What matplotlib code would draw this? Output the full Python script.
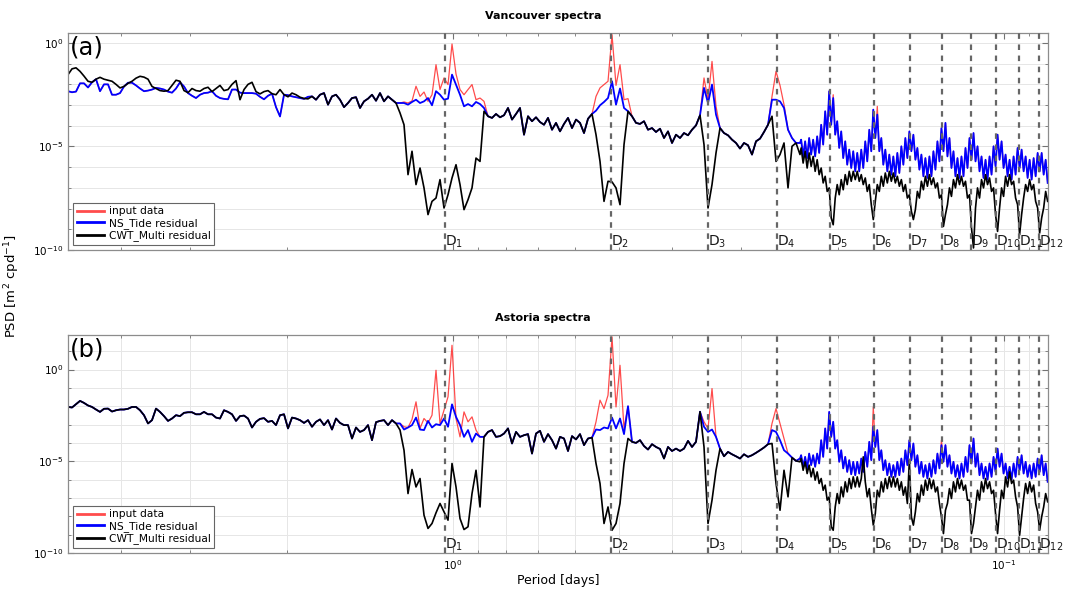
import numpy as np
import matplotlib as mpl
mpl.use('Agg')
import matplotlib.pyplot as plt
from matplotlib.ticker import LogLocator, FixedLocator, LogFormatterSciNotation, NullFormatter

# period grids (days): 5 d -> ~5.6 h, then a finer one for the dense part down to 2 h
period_lf = np.geomspace(5.0, 0.2346, 184)
period_hf = np.geomspace(0.2335, 1.0 / 12, 124)

# D_n tidal species (lunar day / n), in days
d_period = [1.035, 0.5175, 0.345, 0.2588, 0.207, 0.1725,
            0.1479, 0.1294, 0.115, 0.1035, 0.0941, 0.0863]

# ---- Vancouver: log10(PSD) ----
black_a = [
    -1.53, -1.25, -1.2, -1.37, -1.6, -1.85, -1.9, -1.75, -1.66, -1.75,
    -1.8, -1.85, -2.0, -2.17, -2.1, -1.95, -1.85, -1.7, -1.61, -1.65,
    -1.75, -2.1, -2.2, -2.3, -2.33, -2.3, -2.05, -1.8, -1.85, -2.3,
    -2.4, -2.2, -2.3, -2.33, -2.2, -2.14, -2.35, -2.2, -2.05, -2.3,
    -2.25, -2.0, -1.82, -2.74, -2.25, -2.0, -1.9, -2.35, -2.46, -2.35,
    -2.3, -2.45, -2.5, -2.25, -2.5, -2.6, -2.42, -2.5, -2.62, -2.68,
    -2.7, -2.58, -2.74, -2.5, -2.42, -2.98, -2.58, -2.5, -2.74, -3.1,
    -2.9, -2.66, -2.62, -3.14, -2.82, -2.69, -2.5, -2.79, -2.42, -2.82,
    -2.58, -2.74, -2.9, -3.38, -3.95, -6.36, -5.23, -6.84, -6.04, -7.0,
    -8.29, -7.65, -7.49, -6.6, -7.97, -7.33, -6.52, -5.88, -6.84, -8.05,
    -7.57, -7.0, -5.56, -5.72, -3.3, -3.54, -3.62, -3.43, -3.59, -3.49,
    -3.14, -3.7, -3.43, -3.14, -4.43, -3.54, -3.78, -3.59, -3.82, -3.95,
    -3.62, -4.19, -3.86, -4.27, -3.91, -3.62, -4.11, -3.7, -3.86, -4.35,
    -3.66, -3.43, -4.43, -5.72, -7.65, -6.68, -6.71, -7.0, -7.81, -4.91,
    -3.3, -3.54, -3.86, -3.91, -3.78, -4.19, -4.11, -4.3, -4.14, -4.59,
    -4.27, -4.83, -4.43, -4.59, -4.35, -4.46, -4.19, -3.98, -3.49, -4.91,
    -7.97, -6.84, -5.31, -4.11, -4.35, -4.46, -4.67, -4.83, -5.1, -4.83,
    -4.94, -5.39, -4.75, -4.62, -4.3, -3.95, -3.54, -5.72, -5.39, -4.83,
    -7.0, -4.99, -4.83, -5.39]

# None = hidden under the black line
blue_a = ([
    -2.33, -2.38, -2.35, -1.95, -1.95, -2.15, -1.9, -1.75, -2.33, -2.0,
    -2.0, -2.5, -2.5, -2.42, -2.1, -1.92, -1.92, -2.05, -2.2, -2.33,
    -2.3, -2.25, -2.17, -2.2, -2.25, -2.35, -2.4, -2.2, -1.9, -2.1,
    -2.42, -2.55, -2.66, -2.5, -2.42, -2.4, -2.33, -2.55, -2.66, -2.7,
    -2.72, -2.25, -2.25, -2.4, -2.42, -2.42, -2.42, -2.45, -2.6, -2.72,
    -2.55, -2.45, -3.1, -3.55, -2.5, -2.52, -2.58, -2.62, -2.66, -2.7,
    -2.6]
    + [None] * 22
    + [-2.9, -2.9, -2.98, -2.85, -2.74, -2.9, -2.82, -2.66, -3.01, -2.33,
       -2.5, -2.74, -2.69, -1.53, -2.01, -2.5, -3.06, -2.95, -3.06, -2.85,
       -2.95, -3.14]
    + [None] * 27
    + [-3.27, -3.01, -2.85, -2.66, -1.85, -2.98, -2.2, -3.14]
    + [None] * 19
    + [-2.17, -2.9, -2.01, -3.46]
    + [None] * 13
    + [-2.74, -2.74, -2.82, -3.14, -4.19, -4.59]
    + [None, -4.83])

# None = hidden under the blue line
red_a = ([None] * 83
         + [-2.9, -2.85, -2.9, -2.8, -2.09, -2.58, -2.37, -2.82, -2.5, -1.05,
            -2.25, -1.69, -2.01, -0.05, -1.5, -2.25, -2.5, -2.25, -2.01, -2.74,
            -2.66, -2.82]
         + [None] * 27
         + [-2.58, -2.17, -2.01, -1.85, 0.4, -2.05, -1.05, -2.74, -2.69]
         + [None] * 18
         + [-1.69, -2.74, -0.89, -3.06]
         + [None] * 13
         + [-2.58, -1.37, -2.05, -2.98]
         + [None] * 4)

# dense high-frequency part: top and bottom of the noisy trace, alternating
blue_a_top = [
    -4.67, -4.75, -4.59, -4.67, -4.51, -3.95, -3.3, -2.33, -2.66, -3.78,
    -4.27, -4.75, -5.15, -5.23, -5.31, -5.15, -4.75, -4.19, -3.22, -3.46,
    -4.59, -5.15, -5.39, -5.48, -5.31, -4.99, -4.59, -4.27, -4.43, -5.07,
    -5.39, -5.56, -5.48, -5.23, -4.75, -4.11, -3.86, -4.59, -5.23, -5.56,
    -5.48, -5.07, -4.59, -4.35, -4.99, -5.48, -5.64, -5.48, -4.99, -4.43,
    -4.75, -5.39, -5.64, -5.48, -5.07, -5.15, -5.48, -5.64, -5.56, -5.31,
    -5.31, -5.64]
blue_a_bot = [
    -5.48, -5.56, -5.39, -5.48, -5.31, -4.91, -4.43, -3.95, -4.43, -5.07,
    -5.56, -5.88, -6.04, -6.2, -6.2, -6.04, -5.72, -5.23, -4.59, -5.23,
    -5.88, -6.2, -6.36, -6.44, -6.28, -5.88, -5.56, -5.23, -5.64, -6.12,
    -6.44, -6.52, -6.44, -6.12, -5.72, -5.23, -5.48, -6.04, -6.44, -6.52,
    -6.44, -6.04, -5.64, -5.72, -6.2, -6.52, -6.6, -6.36, -5.96, -5.64,
    -6.04, -6.44, -6.6, -6.36, -6.04, -6.2, -6.52, -6.6, -6.44, -6.2,
    -6.36, -6.76]
black_a_top = [
    -5.07, -5.23, -5.31, -5.48, -5.64, -6.04, -6.44, -7.0, -8.78, -6.84,
    -6.6, -6.36, -6.2, -6.2, -6.2, -6.36, -6.52, -6.84, -8.53, -6.84,
    -6.44, -6.28, -6.2, -6.28, -6.44, -6.6, -6.84, -7.33, -8.53, -7.17,
    -6.68, -6.44, -6.36, -6.52, -6.76, -7.33, -8.29, -7.0, -6.6, -6.36,
    -6.44, -6.68, -7.33, -9.9, -7.0, -6.6, -6.36, -6.52, -7.0, -9.1,
    -7.0, -6.44, -6.36, -6.68, -7.81, -8.29, -6.84, -6.6, -6.84, -7.97,
    -8.45, -7.17]
black_a_bot = [
    -5.8, -6.04, -5.96, -6.2, -6.36, -6.76, -7.17, -8.45, -7.49, -7.33,
    -7.09, -6.84, -6.68, -6.6, -6.68, -6.84, -7.17, -7.81, -7.65, -7.17,
    -6.92, -6.76, -6.68, -6.76, -6.92, -7.17, -7.49, -8.13, -8.05, -7.49,
    -7.09, -6.92, -6.84, -7.0, -7.49, -8.86, -7.81, -7.41, -7.0, -6.84,
    -6.92, -7.49, -8.94, -7.97, -7.49, -7.0, -6.84, -7.17, -8.29, -7.97,
    -7.41, -6.92, -6.84, -7.49, -9.26, -7.49, -7.17, -7.09, -7.65, -9.18,
    -7.97, -7.65]
red_a_top = [None] * 8 + [-2.5] + [None] * 10 + [-3.06] + [None] * 42

# ---- Astoria ----
black_b = [
    -2.04, -2.07, -1.89, -1.71, -1.82, -1.96, -2.04, -2.18, -2.31, -2.14,
    -2.13, -2.29, -2.22, -2.18, -2.18, -2.14, -2.04, -2.04, -2.22, -2.49,
    -2.94, -2.76, -2.13, -2.31, -2.54, -2.8, -2.67, -2.49, -2.54, -2.36,
    -2.33, -2.33, -2.44, -2.44, -2.31, -2.44, -2.44, -2.62, -2.67, -2.22,
    -2.31, -2.44, -2.8, -2.54, -2.51, -2.67, -3.16, -2.85, -2.69, -2.65,
    -2.85, -2.8, -3.03, -2.49, -2.44, -3.21, -2.62, -2.67, -2.76, -2.91,
    -2.76, -3.12, -2.85, -2.72, -3.03, -2.76, -3.27, -2.67, -2.91, -3.03,
    -3.03, -3.76, -3.16, -3.4, -3.3, -3.03, -3.85, -2.87, -2.8, -2.76,
    -3.03, -2.76, -2.94, -3.3, -4.4, -6.76, -5.45, -6.4, -5.94, -7.94,
    -8.66, -8.39, -7.81, -7.3, -7.76, -8.21, -5.12, -6.4, -8.12, -8.72,
    -8.57, -6.76, -5.49, -7.49, -3.67, -3.4, -3.3, -3.67, -3.63, -3.49,
    -3.21, -4.03, -3.4, -3.67, -3.58, -3.52, -4.58, -3.49, -3.34, -3.94,
    -3.52, -3.85, -4.31, -3.67, -3.76, -4.44, -3.63, -3.81, -3.52, -4.12,
    -3.76, -3.71, -5.12, -6.21, -8.39, -7.49, -8.76, -8.39, -7.3, -5.12,
    -3.76, -3.94, -4.0, -3.85, -4.17, -4.36, -4.07, -4.22, -4.33, -4.85,
    -4.22, -4.44, -4.31, -4.44, -4.31, -3.89, -4.22, -3.94, -2.3, -4.22,
    -8.39, -7.12, -5.49, -4.31, -4.73, -4.49, -4.62, -4.73, -4.85, -4.62,
    -4.76, -4.67, -4.54, -4.4, -4.25, -4.07, -4.03, -6.21, -7.67, -5.49,
    -6.94, -4.8, -4.98, -5.03]

blue_b = ([None] * 83
          + [-2.94, -3.27, -3.16, -3.03, -2.62, -3.27, -3.3, -2.8, -3.16, -2.98,
             -3.03, -2.67, -3.12, -1.9, -2.58, -3.03, -3.67, -3.3, -3.94, -3.49,
             -3.67]
          + [None] * 28
          + [-3.27, -3.3, -3.16, -3.21, -2.62, -3.21, -2.67, -3.52, -2.0]
          + [None] * 18
          + [-3.12, -3.4, -3.27, -3.67]
          + [None] * 13
          + [-3.3, -3.4, -3.85, -4.4, -4.58]
          + [None, None, -4.85])

red_b = ([None] * 83
         + [-2.94, -3.12, -3.16, -2.72, -1.76, -3.21, -2.67, -2.91, -2.49, -0.04,
            -2.94, -2.22, -1.49, 1.32, -2.67, -3.67, -2.31, -2.85, -2.58, -3.3]
         + [None] * 29
         + [-2.85, -1.67, -2.13, -1.4, 1.78, -2.04, 0.23, -3.21]
         + [None] * 19
         + [-2.85, -3.21, -1.04, -3.67]
         + [None] * 13
         + [-2.94, -2.13, -2.94, -3.76]
         + [None] * 4)

blue_b_top = [
    -4.67, -4.76, -4.58, -4.67, -4.58, -3.85, -3.21, -2.31, -2.85, -3.85,
    -4.4, -4.76, -4.94, -5.03, -5.03, -4.85, -4.49, -3.94, -3.12, -3.3,
    -4.4, -4.94, -5.12, -5.21, -5.03, -4.85, -4.4, -3.85, -4.03, -4.67,
    -5.03, -5.21, -5.12, -4.94, -4.58, -4.12, -4.12, -4.67, -5.03, -5.21,
    -5.12, -4.76, -4.12, -3.76, -4.58, -5.12, -5.3, -5.12, -4.76, -4.31,
    -4.58, -5.12, -5.3, -5.12, -4.76, -4.67, -5.03, -5.21, -5.12, -4.85,
    -4.67, -5.12]
blue_b_bot = [
    -5.3, -5.39, -5.21, -5.3, -5.12, -4.76, -4.31, -3.67, -4.31, -5.03,
    -5.39, -5.58, -5.71, -5.76, -5.67, -5.58, -5.3, -4.94, -4.22, -4.94,
    -5.49, -5.76, -5.85, -5.85, -5.76, -5.58, -5.21, -4.94, -5.3, -5.67,
    -5.85, -5.94, -5.85, -5.67, -5.39, -5.03, -5.3, -5.67, -5.85, -5.94,
    -5.85, -5.58, -5.12, -5.3, -5.76, -5.94, -6.0, -5.85, -5.58, -5.3,
    -5.67, -5.94, -6.0, -5.85, -5.49, -5.67, -5.85, -5.94, -5.85, -5.58,
    -5.76, -6.12]
black_b_top = [
    -4.85, -5.03, -5.21, -5.39, -5.58, -5.94, -6.3, -6.94, -8.76, -6.76,
    -6.4, -6.12, -5.94, -5.85, -5.85, -5.94, -6.12, -6.49, -8.48, -6.58,
    -6.12, -5.94, -5.85, -5.85, -5.94, -6.12, -6.4, -4.94, -8.48, -6.76,
    -6.3, -6.03, -5.94, -6.03, -6.4, -8.03, -7.67, -6.49, -6.12, -5.94,
    -6.03, -6.3, -7.12, -8.39, -6.58, -6.12, -5.94, -6.12, -6.58, -8.94,
    -6.58, -5.85, -5.58, -6.03, -7.49, -8.03, -6.21, -6.12, -6.3, -7.76,
    -8.03, -6.76]
black_b_bot = [
    -5.49, -5.67, -5.85, -6.03, -6.21, -6.58, -7.12, -8.57, -7.49, -7.3,
    -6.94, -6.67, -6.49, -6.4, -6.4, -4.76, -6.94, -7.58, -7.85, -6.94,
    -6.67, -6.49, -6.4, -6.4, -6.58, -6.85, -7.3, -8.03, -7.76, -7.21,
    -6.85, -6.58, -6.49, -6.67, -7.3, -8.94, -7.3, -7.03, -6.67, -6.49,
    -6.58, -7.12, -8.94, -7.49, -7.12, -6.67, -6.49, -6.76, -7.85, -7.67,
    -7.03, -6.4, -6.21, -6.94, -9.03, -7.03, -6.76, -6.67, -7.3, -8.76,
    -7.49, -7.21]
red_b_top = [None] * 18 + [-2.04] + [None] * 16 + [-3.85] + [None] * 26


def under(raw, base):
    # fill hidden stretches with the curve drawn on top of them
    raw = np.array(raw, dtype=float)
    return np.where(np.isnan(raw), base, raw)


def zigzag(top, bot):
    # top/bottom readings sit on alternate points of the fine grid
    return np.column_stack([top, bot]).ravel()


period = np.concatenate([period_lf, period_hf])

fig = plt.figure(figsize=(10.66, 5.94), dpi=100)
ax_a = fig.add_axes([0.0638, 0.5791, 0.9190, 0.3653])
ax_b = fig.add_axes([0.0638, 0.0690, 0.9190, 0.3670])

panels = [
    (ax_a, black_a, blue_a, red_a, black_a_top, black_a_bot, blue_a_top, blue_a_bot,
     red_a_top, 'Vancouver spectra', '(a)', 10**0.48, False),
    (ax_b, black_b, blue_b, red_b, black_b_top, black_b_bot, blue_b_top, blue_b_bot,
     red_b_top, 'Astoria spectra', '(b)', 10**1.88, True),
]

for (ax, blk, blu, rd, blk_t, blk_b, blu_t, blu_b, rd_t,
     title, tag, ytop, xgrid) in panels:
    blk = np.array(blk, dtype=float)
    blu = under(blu, blk)
    rd = under(rd, blu)
    blk = np.concatenate([blk, zigzag(blk_t, blk_b)])
    blu = np.concatenate([blu, zigzag(blu_t, blu_b)])
    rd = np.concatenate([rd, zigzag(under(rd_t, blu_t), blu_b)])

    ax.plot(period, 10**rd, color='red', lw=0.9, alpha=0.7, label='input data')
    ax.plot(period, 10**blu, color='blue', lw=1.3, label='NS_Tide residual')
    ax.plot(period, 10**blk, color='black', lw=1.2, label='CWT_Multi residual')

    ax.set_xscale('log')
    ax.set_yscale('log')
    ax.set_xlim(5.0, 1.0 / 12)
    ax.set_ylim(1e-10, ytop)

    for n, p in enumerate(d_period, start=1):
        ax.axvline(p, color='0.4', lw=1.6, ls=(0, (2.5, 2.5)), zorder=3)
        ax.text(p, 1e-10, 'D$_{%d}$' % n, fontsize=10, ha='left', va='bottom',
                color='0.1', zorder=4)

    ax.yaxis.set_major_locator(FixedLocator([1e-10, 1e-5, 1e0]))
    ax.yaxis.set_major_formatter(LogFormatterSciNotation())
    ax.yaxis.set_minor_locator(LogLocator(base=10, subs=(1.0,), numticks=40))
    ax.yaxis.set_minor_formatter(NullFormatter())
    ax.xaxis.set_major_locator(FixedLocator([1e-1, 1e0]))
    ax.xaxis.set_minor_locator(LogLocator(base=10, subs=np.arange(2, 10), numticks=20))
    ax.xaxis.set_minor_formatter(NullFormatter())
    if not xgrid:
        ax.xaxis.set_major_formatter(NullFormatter())
    else:
        ax.xaxis.set_major_formatter(LogFormatterSciNotation())

    ax.grid(True, axis='y', which='both', color='0.9', lw=0.7)
    if xgrid:
        ax.grid(True, axis='x', which='both', color='0.9', lw=0.7)
    ax.set_axisbelow(True)

    ax.tick_params(which='both', direction='in', top=True, right=True,
                   labelsize=7.5, color='0.45')
    ax.tick_params(which='major', length=4)
    ax.tick_params(which='minor', length=2.5)
    for s in ax.spines.values():
        s.set_color('0.55')
        s.set_linewidth(0.9)

    ax.set_title(title, fontsize=8, fontweight='bold', x=0.485, pad=10)
    ax.text(0.002, 0.99, tag, transform=ax.transAxes, fontsize=17.5,
            ha='left', va='top', zorder=5)

    leg = ax.legend(loc='lower left', fontsize=7.7, fancybox=False, framealpha=1,
                    edgecolor='0.4', borderpad=0.3, labelspacing=0.15,
                    handlelength=2.6, handletextpad=0.4, borderaxespad=0.5)
    leg.get_frame().set_linewidth(0.8)
    for h in leg.get_lines():
        h.set_linewidth(2.0)

ax_b.set_xlabel('Period [days]', fontsize=9, labelpad=2)
fig.text(0.0113, 0.518, 'PSD [m$^2$ cpd$^{-1}$]', rotation=90, fontsize=9.5,
         ha='center', va='center')

fig.savefig('out.png', dpi=100)
